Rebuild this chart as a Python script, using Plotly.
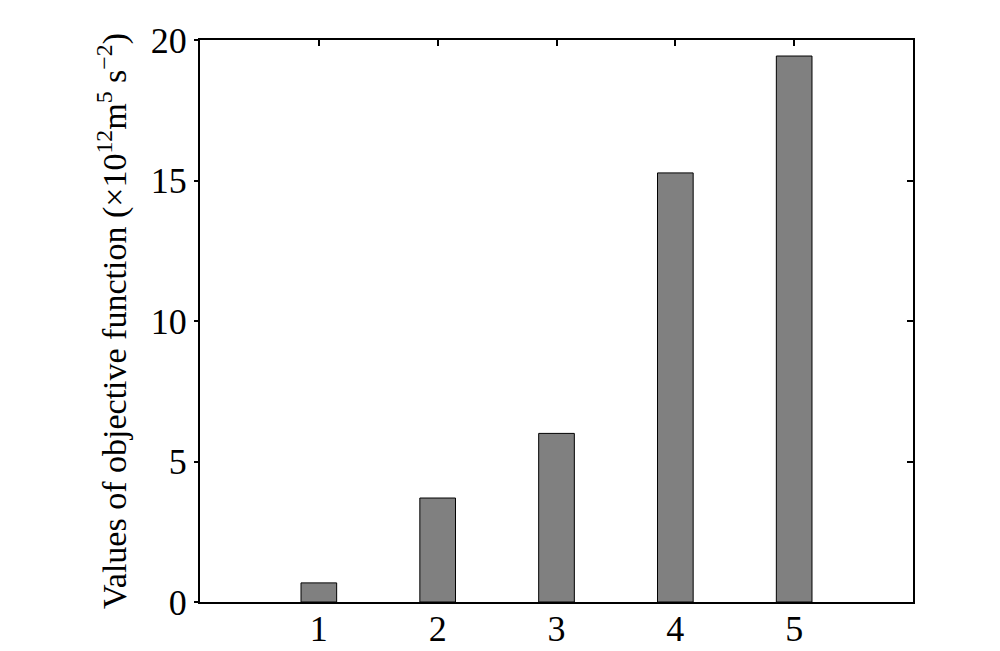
import plotly.graph_objects as go

categories = [1, 2, 3, 4, 5]
values = [0.68, 3.7, 6.0, 15.27, 19.43]
yticks = [0, 5, 10, 15, 20]

FAM = "Liberation Serif, Times New Roman, serif"
TICK = dict(family=FAM, size=36, color="black")
TITLE = dict(family=FAM, size=34, color="black")

fig = go.Figure()
fig.add_trace(go.Bar(x=categories, y=values, width=0.3,
                     marker=dict(color="#808080", line=dict(color="black", width=1))))
fig.add_trace(go.Scatter(x=[None], y=[None], xaxis="x2", yaxis="y2", showlegend=False))

fig.update_layout(
    width=1000, height=651,
    margin=dict(l=192, r=95, t=32, b=57),
    plot_bgcolor="white", paper_bgcolor="white",
    font=dict(family=FAM, size=34, color="black"), showlegend=False,
    xaxis=dict(range=[0, 6], tickvals=categories, ticktext=[str(c) for c in categories],
               ticks="", showgrid=False, zeroline=False, automargin=False,
               ticklabelstandoff=-6,
               showline=True, linecolor="black", linewidth=2, tickfont=TICK),
    xaxis2=dict(range=[0, 6], overlaying="x", side="top", tickvals=categories,
                ticks="inside", ticklen=6, tickwidth=2, tickcolor="black",
                showticklabels=False, showgrid=False, zeroline=False, automargin=False,
                showline=True, linecolor="black", linewidth=2),
    yaxis=dict(range=[0, 20], tickvals=yticks, ticks="outside", ticklen=4, tickwidth=2,
               tickcolor="black", showgrid=False, zeroline=False, automargin=False,
               showline=True, linecolor="black", linewidth=2, tickfont=TICK,
               title=dict(text="Values of objective function (×10<sup>12</sup>m<sup>5</sup> s<sup>−2</sup>)",
                          font=TITLE, standoff=14)),
    yaxis2=dict(range=[0, 20], overlaying="y", side="right", tickvals=yticks,
                ticks="inside", ticklen=6, tickwidth=2, tickcolor="black",
                showticklabels=False, showgrid=False, zeroline=False, automargin=False,
                showline=True, linecolor="black", linewidth=2),
)

fig.write_html("out.html")
